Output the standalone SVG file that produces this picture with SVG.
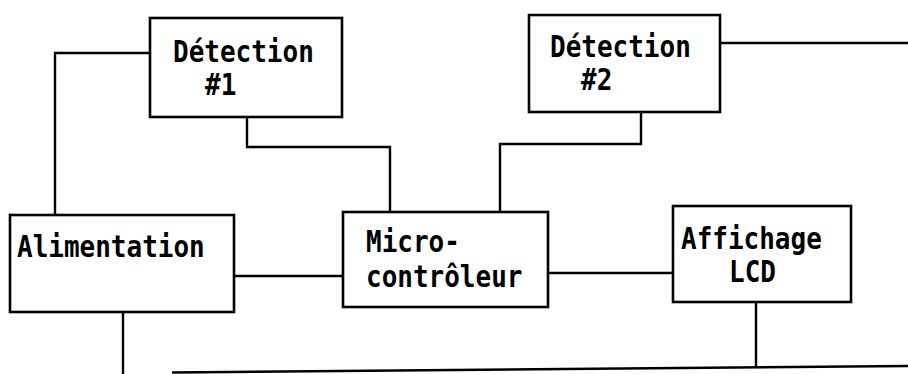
<svg xmlns="http://www.w3.org/2000/svg" width="908" height="374" viewBox="0 0 908 374">
<style>
.box{fill:#fff;stroke:#000;stroke-width:2.6}
.wire{fill:none;stroke:#000;stroke-width:2.4}
text{font-family:"DejaVu Sans Mono","Liberation Mono",monospace;font-weight:bold;font-size:26px;fill:#000}
</style>
<rect width="908" height="374" fill="#fff"/>
<g id="connectors">
<polyline class="wire" points="150,53 55,53 55,215"/>
<polyline class="wire" points="247,117 247,147 390,147 390,212"/>
<polyline class="wire" points="641,112 641,144 500,144 500,212"/>
<line class="wire" x1="720" y1="43" x2="908" y2="43"/>
<line class="wire" x1="234" y1="276" x2="343" y2="276"/>
<line class="wire" x1="548" y1="273" x2="673" y2="273"/>
<line class="wire" x1="123" y1="312" x2="123" y2="374"/>
<line class="wire" x1="756" y1="302" x2="756" y2="367"/>
<line class="wire" x1="172" y1="372.5" x2="908" y2="366"/>
</g>
<g id="detection1">
<rect class="box" x="150" y="18" width="192" height="99"/>
<text transform="translate(173,62) scale(1,1.15)">Détection</text>
<text transform="translate(205,95) scale(1,1.15)">#1</text>
</g>
<g id="detection2">
<rect class="box" x="529" y="15" width="191" height="97"/>
<text transform="translate(550,57) scale(1,1.15)">Détection</text>
<text transform="translate(581,90) scale(1,1.15)">#2</text>
</g>
<g id="alimentation">
<rect class="box" x="10" y="215" width="224" height="97"/>
<text transform="translate(17,257) scale(1,1.15)">Alimentation</text>
</g>
<g id="microcontroleur">
<rect class="box" x="343" y="212" width="205" height="95"/>
<text transform="translate(366,252) scale(1,1.15)">Micro-</text>
<text transform="translate(366,287) scale(1,1.15)">contrôleur</text>
</g>
<g id="affichage">
<rect class="box" x="673" y="206" width="178" height="96"/>
<text transform="translate(681,249) scale(1,1.15)">Affichage</text>
<text transform="translate(729,282) scale(1,1.15)">LCD</text>
</g>
</svg>
